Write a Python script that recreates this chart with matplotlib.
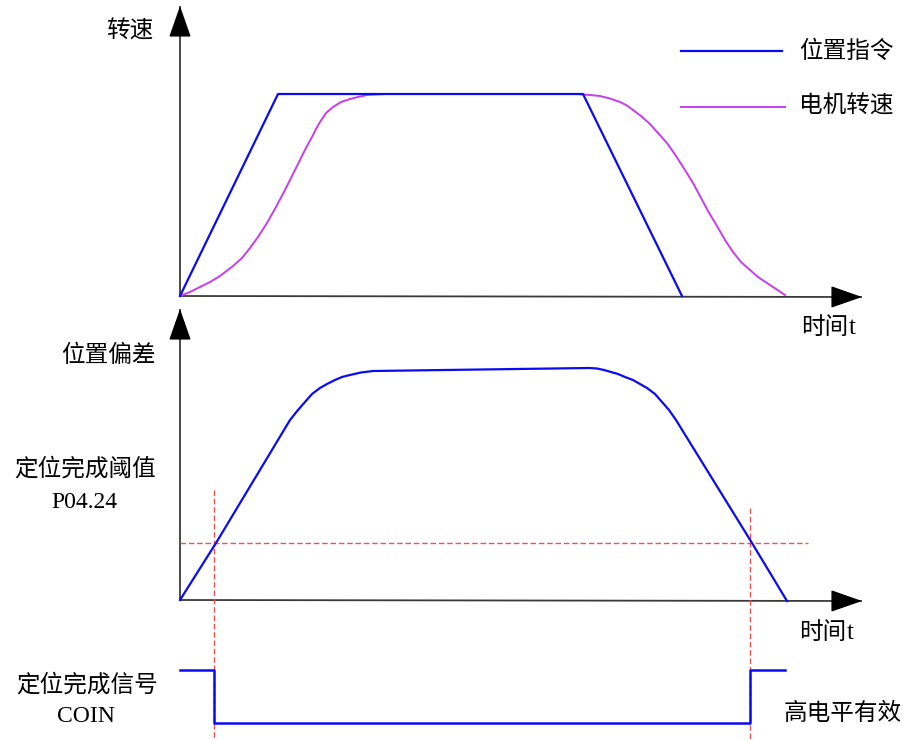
import matplotlib
matplotlib.use("Agg")
import matplotlib.pyplot as plt

plt.rcParams['font.family'] = ['Noto Sans CJK SC', 'DejaVu Sans']

# ---- data (diagram units: x to the right, y downward) ----
cmd_x = [180, 278, 583, 682]
cmd_y = [296, 94, 94, 296]

motor_x = [180, 190, 200, 210, 220, 233, 242, 250, 258, 267, 276, 285, 293, 300, 306, 312, 316, 320, 326, 333, 341, 350, 358, 367, 376, 385, 400, 500, 577, 590, 600, 610, 620, 627, 633, 641, 650, 658, 667, 676, 685, 693, 700, 708, 717, 725, 733, 741, 750, 758, 767, 776, 785]
motor_y = [296, 292, 287, 282, 276, 266, 258, 248, 237, 223, 207, 190, 174, 160, 148, 137, 129, 122, 113, 107, 102, 99, 97, 95, 94.5, 94, 94, 94, 94, 95, 96, 98.5, 102, 105.5, 110, 116, 124, 133, 143, 156, 170, 183, 196, 211, 226, 240, 252, 262, 270, 277, 283, 289, 295]

dev_x = [180, 216, 290, 298, 305, 312, 320, 327, 335, 342, 350, 361, 373, 589, 597, 604, 611, 618, 625, 633, 640, 647, 655, 662, 669, 676, 752, 787]
dev_y = [600, 543, 420, 410, 402, 394, 388, 384, 380, 377, 375, 372.5, 371, 368, 368.5, 370, 372, 374, 377, 380, 384, 388, 394, 402, 410, 420, 543, 601]

coin_x = [180, 214, 214, 750, 750, 785]
coin_y = [670, 670, 723, 723, 670, 670]

threshold_y = 543
threshold_x = [180, 808]
cross_x = [214, 750]
cross_top = [490, 508]

BLUE = '#0a0af5'
MAG = '#c83cf0'
RED = '#f05050'
AX = '#3a3a3a'

fig = plt.figure(figsize=(9.09, 7.40), dpi=100)
ax = fig.add_axes([0, 0, 1, 1])
ax.set_xlim(0, 909)
ax.set_ylim(740, 0)
ax.axis('off')

def arrow(x0, y0, x1, y1):
    ax.plot([x0, x1], [y0, y1], color=AX, lw=1.3, solid_capstyle='butt')
    ax.annotate('', xy=(x1, y1), xytext=(x0 + 0.97 * (x1 - x0), y0 + 0.97 * (y1 - y0)),
                arrowprops=dict(arrowstyle='-|>,head_length=1.0,head_width=0.35',
                                color='black', lw=1, mutation_scale=20,
                                shrinkA=0, shrinkB=0))

# top panel axes
arrow(180, 296, 180, 6)
arrow(180, 296, 862, 297)
# middle panel axes
arrow(180, 600, 180, 309)
arrow(180, 600, 862, 601)

# threshold lines
ax.plot(threshold_x, [threshold_y, threshold_y], color=RED, lw=1, ls=(0, (4, 2)))
for cx, ct in zip(cross_x, cross_top):
    ax.plot([cx, cx], [ct, 740], color=RED, lw=1, ls=(0, (4, 2)))

# curves
ax.plot(motor_x, motor_y, color=MAG, lw=1.4)
ax.plot(cmd_x, cmd_y, color=BLUE, lw=1.6)
ax.plot(dev_x, dev_y, color=BLUE, lw=1.6)
ax.plot(coin_x, coin_y, color=BLUE, lw=1.8)

# legend
ax.plot([681, 782], [51, 51], color=BLUE, lw=1.6)
ax.plot([681, 785], [107, 107], color=MAG, lw=1.4)
fs = 17
ax.text(799, 51, '位置指令', fontsize=fs, va='center', ha='left')
ax.text(799, 106, '电机转速', fontsize=fs, va='center', ha='left')

# labels
ax.text(153, 31, '转速', fontsize=fs, va='center', ha='right')
ax.text(801, 334, '时间', fontsize=fs, va='baseline', ha='left')
ax.text(849, 334, 't', fontsize=fs + 1, va='baseline', ha='left', family='Liberation Serif')
ax.text(156, 356, '位置偏差', fontsize=fs, va='center', ha='right')
ax.text(85, 469, '定位完成阈值', fontsize=fs, va='center', ha='center')
ax.text(84, 502, 'P04.24', fontsize=fs, va='center', ha='center', family='Liberation Serif')
ax.text(799, 639, '时间', fontsize=fs, va='baseline', ha='left')
ax.text(847, 639, 't', fontsize=fs + 1, va='baseline', ha='left', family='Liberation Serif')
ax.text(87, 685, '定位完成信号', fontsize=fs, va='center', ha='center')
ax.text(86, 716, 'COIN', fontsize=fs, va='center', ha='center', family='Liberation Serif')
ax.text(843, 713, '高电平有效', fontsize=fs, va='center', ha='center')

fig.savefig('out.png', dpi=100)
